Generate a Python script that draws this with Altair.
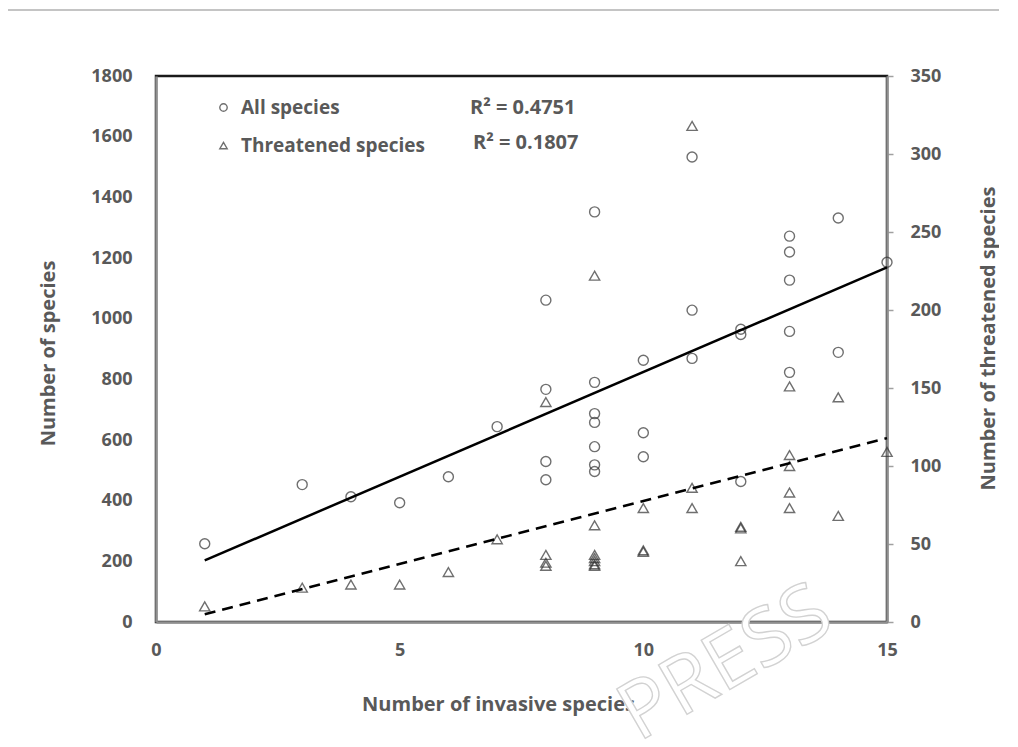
import altair as alt
import pandas as pd

# ---- data ----
invasive_all = [1, 3, 4, 5, 6, 7, 8, 8, 8, 8, 9, 9, 9, 9, 9, 9, 9, 10, 10, 10,
                11, 11, 11, 12, 12, 12, 13, 13, 13, 13, 13, 14, 14, 15]
all_species = [258, 453, 413, 393, 479, 644, 1061, 767, 529, 469, 1352, 790, 687, 658,
               578, 518, 496, 863, 624, 545, 1533, 1028, 869, 965, 948, 463, 1272,
               1220, 1127, 958, 823, 1332, 889, 1186]
invasive_thr = [1, 3, 4, 5, 6, 7, 8, 8, 8, 8, 9, 9, 9, 9, 9, 9, 9, 10, 10, 10,
                11, 11, 11, 12, 12, 12, 13, 13, 13, 13, 13, 14, 14, 15]
threatened = [10, 22, 24, 24, 32, 53, 141, 43, 38, 36, 222, 62, 43, 41, 39, 37, 36,
              73, 46, 45, 318, 86, 73, 61, 60, 39, 151, 107, 100, 83, 73, 144, 68, 109]
series_names = ["All species", "Threatened species"]
r2_labels = ["R\u00b2 = 0.4751", "R\u00b2 = 0.1807"]
x_ticks = [0, 5, 10, 15]
left_ticks = list(range(0, 1801, 200))
right_ticks = list(range(0, 351, 50))

df_all = pd.DataFrame({"x": invasive_all, "y": all_species, "series": series_names[0]})
df_thr = pd.DataFrame({"x": invasive_thr, "y": threatened, "series": series_names[1]})

FONT = "Open Sans"
TXT = "#595959"
AX = "#8f8f8f"
PT = "#333333"

W, H = 731, 546

xenc = alt.X("x:Q", scale=alt.Scale(domain=[0, 15], nice=False),
             axis=alt.Axis(values=x_ticks, title="Number of invasive species", format="d",
                           titleX=342, titleY=82, titleAlign="center", titleBaseline="middle",
                           labelPadding=19, ticks=False, labelFlush=False))

shape_scale = alt.Scale(domain=series_names, range=["circle", "triangle-up"])
legend = alt.Legend(title=None, orient="none", legendX=58, legendY=22,
                    labelFont=FONT, labelFontSize=19, labelFontWeight="bold",
                    labelColor=TXT, symbolSize=55, symbolStrokeColor=PT,
                    symbolStrokeWidth=1.4, symbolFillColor="white",
                    rowPadding=18, labelOffset=8, labelLimit=300)

yl = alt.Y("y:Q", scale=alt.Scale(domain=[0, 1800], nice=False),
           axis=alt.Axis(values=left_ticks, orient="left", title="Number of species",
                         format="d", labelFlush=False,
                         titleX=-108, titleY=277, titleAngle=270, titleAlign="center",
                         titleBaseline="middle", ticks=False, labelPadding=24))
yr = alt.Y("y:Q", scale=alt.Scale(domain=[0, 350], nice=False),
           axis=alt.Axis(values=right_ticks, orient="right", format="d", labelFlush=False,
                         title="Number of threatened species",
                         titleX=101, titleY=262, titleAngle=270, titleAlign="center",
                         titleBaseline="middle", ticks=True, tickSize=6,
                         tickColor="#a0a0a0", tickWidth=1.5, labelPadding=17))

pts_all = alt.Chart(df_all).mark_point(filled=False, size=100, color=PT, strokeWidth=1.4).encode(
    x=xenc, y=yl, shape=alt.Shape("series:N", scale=shape_scale, legend=legend))
line_all = alt.Chart(df_all).transform_regression("x", "y", extent=[1, 15]).mark_line(
    color="black", strokeWidth=2.5).encode(x="x:Q", y="y:Q")
left = alt.layer(pts_all, line_all)

pts_thr = alt.Chart(df_thr).mark_point(filled=False, size=105, color=PT, strokeWidth=1.4).encode(
    x=xenc, y=yr, shape=alt.Shape("series:N", scale=shape_scale, legend=legend))
line_thr = alt.Chart(df_thr).transform_regression("x", "y", extent=[1, 15]).mark_line(
    color="black", strokeWidth=2.5, strokeDash=[11, 7]).encode(x="x:Q", y="y:Q")
right = alt.layer(pts_thr, line_thr)

r2_df = pd.DataFrame({"label": r2_labels})
r2_a = alt.Chart(r2_df.iloc[[0]]).mark_text(
    font=FONT, fontSize=20, fontWeight="bold", color=TXT, align="left", baseline="middle"
).encode(text="label:N", x=alt.value(314), y=alt.value(32))
r2_b = alt.Chart(r2_df.iloc[[1]]).mark_text(
    font=FONT, fontSize=20, fontWeight="bold", color=TXT, align="left", baseline="middle"
).encode(text="label:N", x=alt.value(317), y=alt.value(67))

top_rule = alt.Chart(pd.DataFrame({"k": [0]})).mark_rule(color="#c4c4c4", strokeWidth=2).encode(
    x=alt.value(-151), x2=alt.value(844), y=alt.value(-66))

wm = alt.Chart(pd.DataFrame({"t": ["PRESS"]})).mark_text(
    font=FONT, fontSize=80, angle=330, fill="white", stroke="#d2d2d2", strokeWidth=1.4,
    align="center", baseline="middle"
).encode(text="t:N", x=alt.value(570), y=alt.value(588))

chart = alt.layer(left, right, r2_a, r2_b, top_rule, wm).resolve_scale(
    y="independent"
).properties(
    width=W, height=H,
    autosize=alt.AutoSizeParams(type="none"),
    padding={"left": 148, "top": 68, "right": 112, "bottom": 118},
).configure_view(
    stroke="#1a1a1a", strokeWidth=2.5
).configure_axis(
    grid=False, domainColor=AX, domainWidth=2.5,
    labelFont=FONT, labelFontSize=18, labelFontWeight="bold", labelColor=TXT,
    titleFont=FONT, titleFontSize=20, titleFontWeight="bold", titleColor=TXT,
)

chart.save("out.html", embed_options={"renderer": "svg", "actions": False})
